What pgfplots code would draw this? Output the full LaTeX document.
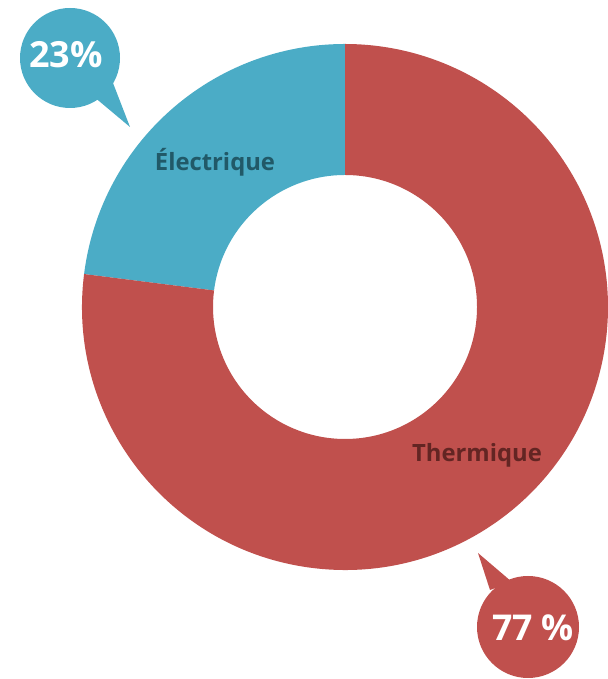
\documentclass[border=0pt]{standalone}
\usepackage{pgfplots}
\pgfplotsset{compat=1.18}
\usetikzlibrary{calc}
\usepackage{fontspec}
\setmainfont{Open Sans}
\definecolor{thermred}{HTML}{C0504D}
\definecolor{elecblue}{HTML}{4BACC6}
\definecolor{elecdark}{HTML}{215968}
\definecolor{thermdark}{HTML}{632523}
\begin{document}
\begin{tikzpicture}
\begin{axis}[x=0.5pt,y=0.5pt,xmin=0,xmax=608,ymin=0,ymax=679,hide axis,scale only axis,clip=false]
\path[use as bounding box] (axis cs:0,0) rectangle (axis cs:608,679);
% shares (percent)
\def\valE{23}
\def\valT{77}
\pgfmathsetmacro{\aE}{90+3.6*\valE}
\fill[elecblue] (axis cs:345,372) ++(90:131.5pt) arc[start angle=90,end angle=\aE,radius=131.5pt] -- ($(axis cs:345,372)+(\aE:66pt)$) arc[start angle=\aE,end angle=90,radius=66pt] -- cycle;
\fill[thermred] ($(axis cs:345,372)+(\aE:131.5pt)$) arc[start angle=\aE,end angle=450,radius=131.5pt] -- ($(axis cs:345,372)+(450:66pt)$) arc[start angle=450,end angle=\aE,radius=66pt] -- cycle;
% labels
\node[font=\bfseries\fontsize{11.9}{14}\selectfont, text=elecdark] at (axis cs:215,517) {Électrique};
\node[font=\bfseries\fontsize{11.9}{14}\selectfont, text=thermdark] at (axis cs:477,224) {Thermique};
% callouts
\fill[elecblue] (axis cs:70,621) ++(25pt,0pt) arc[start angle=0,end angle=360,radius=25pt];
\fill[elecblue] (axis cs:93,583) -- (axis cs:130,552) -- (axis cs:113,596) -- cycle;
\node[font=\bfseries\fontsize{18}{21}\selectfont, text=white] at (axis cs:66,624) {23\%};
\fill[thermred] (axis cs:528,52) ++(25.5pt,0pt) arc[start angle=0,end angle=360,radius=25.5pt];
\fill[thermred] (axis cs:490,89) -- (axis cs:478,126) -- (axis cs:512,97) -- cycle;
\node[font=\bfseries\fontsize{17.8}{21}\selectfont, text=white] at (axis cs:533,51) {77 \%};
\end{axis}
\end{tikzpicture}
\end{document}
